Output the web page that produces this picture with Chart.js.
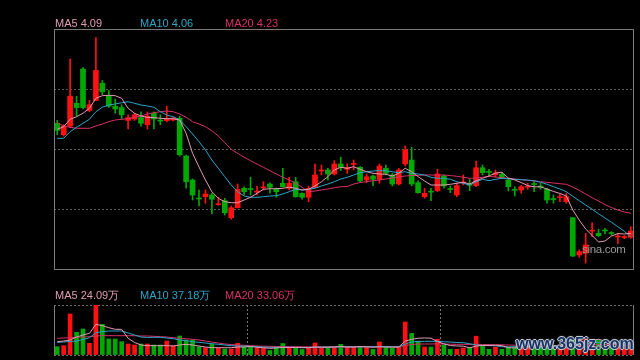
<!DOCTYPE html>
<html lang="zh">
<head>
<meta charset="UTF-8">
<title>K线图</title>
<script src="https://cdn.jsdelivr.net/npm/chart.js"></script>
<style>
  body { margin: 0; background: #000; width: 640px; height: 360px; overflow: hidden; position: relative;
         font-family: Arial, "Liberation Sans", sans-serif; }
  #kline { position: absolute; left: 0; top: 0; width: 640px; height: 280px; }
  #vol { position: absolute; left: 0; top: 280px; width: 640px; height: 80px; }
  .lbl { position: absolute; font-size: 11px; line-height: 11px; white-space: nowrap; }
  #sina { position: absolute; left: 582px; top: 243px; font-size: 11.5px; color: #9a9a9a; letter-spacing: -0.3px; }
  #mark { position: absolute; left: 516px; top: 335px; font-size: 16px; font-weight: bold; color: #1a3366;
          text-shadow: 1px 0 #c4cad4, -1px 0 #c4cad4, 0 1px #c4cad4, 0 -1px #c4cad4, 0 0 3px #9aa4b4; white-space: nowrap; }
</style>
</head>
<body>
<div id="kline"><canvas id="priceChart"></canvas></div>
<div id="vol"><canvas id="volChart"></canvas></div>
<div class="lbl" id="l5" style="left:55px;top:18px;color:#e39bb5"></div>
<div class="lbl" id="l10" style="left:140px;top:18px;color:#2ba6c8"></div>
<div class="lbl" id="l20" style="left:225px;top:18px;color:#d8306a"></div>
<div class="lbl" id="v5" style="left:55px;top:290px;color:#e39bb5"></div>
<div class="lbl" id="v10" style="left:140px;top:290px;color:#2ba6c8"></div>
<div class="lbl" id="v20" style="left:225px;top:290px;color:#d8306a"></div>
<div id="sina">sina.com</div>
<div id="mark">www.365jz.com</div>
<script>
const days = Array.from({ length: 90 }, (_, i) => i + 1);

const opens = [4.86,4.78,4.84,5.00,5.24,4.95,5.02,5.14,5.05,4.98,
  4.97,4.88,4.89,4.90,4.85,4.93,4.88,4.878,4.883,4.895,
  4.631,4.463,4.337,4.346,4.358,4.29,4.318,4.199,4.269,4.405,
  4.40,4.378,4.408,4.435,4.398,4.44,4.405,4.451,4.37,4.342,
  4.412,4.526,4.533,4.505,4.575,4.538,4.572,4.552,4.463,4.491,
  4.468,4.545,4.498,4.435,4.575,4.603,4.444,4.346,4.384,4.388,
  4.491,4.40,4.358,4.443,4.43,4.424,4.549,4.52,4.498,4.503,
  4.463,4.395,4.393,4.413,4.435,4.418,4.398,4.33,4.339,4.311,
  4.199,3.938,3.95,4.105,4.09,4.11,4.092,4.064,4.06,4.062];
const highs = [4.88,4.85,5.31,5.05,5.25,5.02,5.46,5.16,5.09,5.03,
  4.99,4.92,4.93,4.94,4.94,4.94,4.92,4.98,4.90,4.91,
  4.638,4.47,4.393,4.393,4.37,4.342,4.335,4.281,4.435,4.416,
  4.482,4.421,4.451,4.444,4.407,4.545,4.482,4.482,4.374,4.421,
  4.575,4.568,4.545,4.598,4.622,4.575,4.603,4.557,4.505,4.498,
  4.575,4.568,4.51,4.545,4.701,4.692,4.458,4.405,4.405,4.538,
  4.498,4.421,4.44,4.498,4.468,4.596,4.568,4.538,4.533,4.517,
  4.475,4.416,4.426,4.44,4.451,4.44,4.405,4.358,4.363,4.37,
  4.20,3.973,4.09,4.164,4.118,4.125,4.101,4.09,4.075,4.136];
const lows = [4.78,4.77,4.83,4.91,4.96,4.94,5.02,5.06,4.97,4.93,
  4.89,4.82,4.88,4.84,4.82,4.82,4.85,4.87,4.876,4.63,
  4.405,4.323,4.281,4.30,4.225,4.286,4.218,4.188,4.267,4.358,
  4.358,4.358,4.393,4.37,4.342,4.412,4.393,4.342,4.328,4.311,
  4.41,4.498,4.463,4.498,4.529,4.51,4.533,4.451,4.444,4.423,
  4.44,4.498,4.421,4.428,4.561,4.423,4.37,4.335,4.318,4.381,
  4.405,4.374,4.346,4.428,4.388,4.416,4.498,4.491,4.484,4.472,
  4.386,4.351,4.37,4.398,4.381,4.398,4.30,4.30,4.311,4.30,
  3.926,3.922,3.882,4.066,4.066,4.085,4.078,4.015,4.052,4.055];
const closes = [4.81,4.84,5.05,4.97,4.97,4.99,5.23,5.08,4.98,4.96,
  4.92,4.90,4.92,4.86,4.91,4.89,4.875,4.888,4.897,4.64,
  4.451,4.358,4.330,4.365,4.328,4.295,4.234,4.269,4.398,4.381,
  4.396,4.384,4.414,4.412,4.381,4.416,4.44,4.346,4.342,4.405,
  4.498,4.531,4.505,4.575,4.552,4.549,4.578,4.456,4.486,4.468,
  4.561,4.51,4.435,4.533,4.673,4.435,4.374,4.37,4.378,4.505,
  4.421,4.396,4.424,4.448,4.426,4.549,4.514,4.516,4.512,4.479,
  4.416,4.391,4.416,4.418,4.431,4.414,4.323,4.326,4.344,4.346,
  3.931,3.961,4.008,4.11,4.073,4.106,4.088,4.069,4.064,4.106];

const ma5 = [4.818,4.836,4.888,4.906,4.93,4.965,5.035,5.053,5.056,5.053,
  5.035,4.965,4.93,4.911,4.902,4.899,4.895,4.892,4.892,4.883,
  4.79,4.65,4.554,4.463,4.381,4.335,4.311,4.304,4.304,4.323,
  4.342,4.37,4.398,4.402,4.402,4.405,4.412,4.405,4.393,4.398,
  4.421,4.451,4.486,4.533,4.552,4.545,4.556,4.538,4.521,4.51,
  4.505,4.503,4.491,4.51,4.545,4.521,4.486,4.456,4.428,4.428,
  4.428,4.433,4.44,4.447,4.435,4.458,4.475,4.491,4.512,4.517,
  4.477,4.463,4.445,4.424,4.415,4.415,4.40,4.383,4.369,4.351,
  4.253,4.183,4.12,4.075,4.029,4.036,4.071,4.088,4.085,4.09];
const ma10 = [4.755,4.755,4.801,4.832,4.86,4.888,4.941,4.972,4.988,4.995,
  5.004,5.011,5.0,4.988,4.981,4.972,4.941,4.918,4.906,4.883,
  4.836,4.785,4.731,4.673,4.603,4.545,4.486,4.428,4.381,4.351,
  4.342,4.342,4.346,4.351,4.353,4.365,4.381,4.398,4.393,4.398,
  4.405,4.421,4.435,4.451,4.47,4.482,4.498,4.514,4.521,4.526,
  4.528,4.528,4.521,4.514,4.521,4.51,4.505,4.498,4.482,4.475,
  4.475,4.468,4.451,4.44,4.428,4.451,4.468,4.458,4.468,4.475,
  4.472,4.468,4.465,4.463,4.458,4.447,4.433,4.416,4.40,4.381,
  4.349,4.318,4.288,4.258,4.227,4.197,4.167,4.136,4.104,4.064];
const ma20 = [4.864,4.841,4.832,4.825,4.825,4.825,4.841,4.855,4.871,4.883,
  4.888,4.892,4.902,4.911,4.925,4.934,4.941,4.946,4.941,4.925,
  4.902,4.871,4.855,4.836,4.808,4.771,4.724,4.678,4.65,4.622,
  4.598,4.575,4.552,4.528,4.505,4.482,4.463,4.44,4.412,4.381,
  4.386,4.393,4.40,4.409,4.416,4.417,4.435,4.445,4.452,4.458,
  4.463,4.47,4.477,4.484,4.491,4.494,4.496,4.498,4.498,4.498,
  4.498,4.494,4.489,4.482,4.475,4.477,4.482,4.489,4.484,4.479,
  4.475,4.47,4.465,4.461,4.456,4.451,4.447,4.442,4.437,4.433,
  4.414,4.39,4.365,4.339,4.316,4.291,4.27,4.253,4.239,4.23];

// volume in 万
const volumes = [26.6,29.8,131.2,72.6,83.2,37.4,160,98.2,51.2,51.2,
  42.6,35.2,32,35.2,35.2,32,32,44.8,29.8,60.8,
  48,48,26.6,23.4,34.2,21.4,19.2,19.2,37.4,26.6,
  25.6,21.4,21.4,14.4,24.6,36.8,21.4,21.4,17.6,21.4,
  38.4,21.4,21.4,24.6,33.9,26.2,26.2,25.6,25.6,18.2,
  41.6,25.6,22.4,27.8,105.6,69.1,44.2,25.6,25.6,50.6,
  32,18.2,18.2,22.4,24,60.2,28.8,18.2,25.6,18.2,
  25.6,25.6,30,28,24,27,38,30,28,33,
  50,50,52,50,49,22,26,28,22,22.5];
const vma5 = [42.6,44.8,48,57.6,64,69.4,98.2,93.8,87.4,82.2,
  82.2,53.4,40,32,29.8,29.8,29.8,29.8,28.8,32,
  34.2,32,28.8,25.6,23.4,23.4,23.4,23.4,25.6,25.6,
  27.2,24.6,23.4,21.4,22.4,24,24,24,23.4,23,
  25.6,24.6,24.6,25.6,27.2,25.6,25.6,27.2,26.2,25,
  26.2,25.6,25,25.6,44.6,50.1,53.8,54.5,54,43,
  35.6,30.4,28.9,28.3,23,28.6,30.7,30.7,31.4,30.2,
  23.3,22.6,25,25.5,26.6,26.9,29.4,29.4,29.4,31.2,
  35.8,38.2,42.6,47,50.2,44.6,39.8,35,29.4,24.09];
const vma10 = [40.6,41.6,43.2,44.8,49.6,55.4,71.4,74.6,76.8,76.8,
  76.8,70.4,64,57.6,56,56.6,56.6,54.4,52.2,48,
  45.8,42.6,40.6,38.4,36.2,34.2,32,29.8,28.8,28.8,
  27.8,26.6,25.6,24.6,24.6,24.6,24.6,24.6,24,24,
  25,25,25.6,25.6,26.2,26.2,26.2,26.2,26.6,26.2,
  26.9,26.9,26.2,26.2,35.2,41.6,43.2,43.8,43.8,43.8,
  42.2,41.6,40,39.4,36.2,32,30.6,29.8,29.8,26.6,
  25.9,26.7,27.9,28.4,28.4,25.1,26,27.2,27.4,28.9,
  31.4,33.8,36,38.2,40.7,40.2,39,38.8,38.2,37.18];
const vma20 = [53.4,54.4,55.4,56.6,57.6,58.6,60.8,61.8,61.8,61.8,
  61.8,61.8,61.8,60.8,60.8,59.8,58.6,57.6,55.4,53.4,
  52.2,50.2,48,44.8,41.6,38.4,35.2,33.6,32,31,
  29.8,28.8,28.2,27.8,27.2,27.2,26.6,26.6,26.2,26.2,
  26.2,26.2,26.2,26.2,26.2,26.2,26.2,26.2,26.2,26.2,
  26.6,26.6,26.6,26.6,30.4,33.6,35.2,35.2,35.2,35.8,
  35.2,34.6,34.2,34.2,33.6,34.2,33.6,33.2,32.6,32.6,
  32,31.4,31,30.4,29.4,27.2,26.6,27,27,27.2,
  29,30.5,31.8,32.6,33.2,33,33.6,33.6,33.2,33.06];

const priceGrid = [4.26, 4.68, 5.10];
const priceMin = 3.84, priceMax = 5.52;
const volMax = 160;

const upColor = '#ff1111', downColor = '#00a800';
const c5 = '#e39bb5', c10 = '#2ba6c8', c20 = '#d8306a';
const candleColors = closes.map((c, i) => c >= opens[i] ? upColor : downColor);

const last = a => a[a.length - 1];
document.getElementById('l5').textContent = 'MA5 ' + last(ma5).toFixed(2);
document.getElementById('l10').textContent = 'MA10 ' + last(ma10).toFixed(2);
document.getElementById('l20').textContent = 'MA20 ' + last(ma20).toFixed(2);
document.getElementById('v5').textContent = 'MA5 ' + last(vma5).toFixed(2) + '万';
document.getElementById('v10').textContent = 'MA10 ' + last(vma10).toFixed(2) + '万';
document.getElementById('v20').textContent = 'MA20 ' + last(vma20).toFixed(2) + '万';

function maLine(data, color) {
  return { type: 'line', data: data, borderColor: color, borderWidth: 1, pointRadius: 0, tension: 0, order: 0 };
}

// gray box round the price panel
const boxPlugin = {
  id: 'box',
  afterDraw(chart) {
    const a = chart.chartArea, ctx = chart.ctx;
    ctx.save();
    ctx.strokeStyle = '#7a7a7a';
    ctx.lineWidth = 1;
    ctx.strokeRect(a.left + 0.5, a.top + 0.5, a.right - a.left - 1, a.bottom - a.top);
    ctx.restore();
  }
};
// solid sides of the volume panel
const sidePlugin = {
  id: 'sides',
  afterDraw(chart) {
    const a = chart.chartArea, ctx = chart.ctx;
    ctx.save();
    ctx.strokeStyle = '#7a7a7a';
    ctx.lineWidth = 1;
    ctx.beginPath();
    ctx.moveTo(a.left + 0.5, a.top);
    ctx.lineTo(a.left + 0.5, a.bottom);
    ctx.moveTo(a.right - 0.5, a.top);
    ctx.lineTo(a.right - 0.5, a.bottom);
    ctx.stroke();
    ctx.restore();
  }
};

new Chart(document.getElementById('priceChart'), {
  type: 'bar',
  data: {
    labels: days,
    datasets: [
      maLine(ma5, c5), maLine(ma10, c10), maLine(ma20, c20),
      { data: opens.map((o, i) => [o, closes[i]]), backgroundColor: candleColors,
        barThickness: 5, minBarLength: 1, grouped: false, order: 2 },
      { data: lows.map((l, i) => [l, highs[i]]), backgroundColor: candleColors,
        barThickness: 1, minBarLength: 1, grouped: false, order: 3 }
    ]
  },
  options: {
    responsive: true,
    maintainAspectRatio: false,
    animation: false,
    layout: { padding: { left: 54, right: 6, top: 29, bottom: 11 } },
    plugins: { legend: { display: false }, tooltip: { enabled: false } },
    scales: {
      x: { display: false, offset: true },
      y: {
        min: priceMin, max: priceMax,
        afterFit: s => { s.width = 0; },
        afterBuildTicks: s => { s.ticks = priceGrid.map(v => ({ value: v })); },
        ticks: { display: false },
        border: { display: false, dash: [2, 2] },
        grid: { color: '#5c5c5c', drawTicks: false }
      }
    }
  },
  plugins: [boxPlugin]
});

new Chart(document.getElementById('volChart'), {
  type: 'bar',
  data: {
    labels: days,
    datasets: [
      maLine(vma5, c5), maLine(vma10, c10), maLine(vma20, c20),
      { data: volumes, backgroundColor: candleColors, barThickness: 4, grouped: false, order: 2 }
    ]
  },
  options: {
    responsive: true,
    maintainAspectRatio: false,
    animation: false,
    layout: { padding: { left: 54, right: 6, top: 25, bottom: 5 } },
    plugins: { legend: { display: false }, tooltip: { enabled: false } },
    scales: {
      x: {
        display: true, offset: true,
        afterFit: s => { s.height = 0; },
        ticks: { display: false },
        border: { display: false, dash: [2, 2] },
        grid: { offset: true, drawTicks: false,
                color: c => (c.index === 30 || c.index === 60) ? '#777' : 'transparent' }
      },
      y: {
        min: 0, max: volMax,
        afterFit: s => { s.width = 0; },
        afterBuildTicks: s => { s.ticks = [0, volMax].map(v => ({ value: v })); },
        ticks: { display: false },
        border: { display: false, dash: [2, 2] },
        grid: { color: '#6a6a6a', drawTicks: false }
      }
    }
  },
  plugins: [sidePlugin]
});
</script>
</body>
</html>
